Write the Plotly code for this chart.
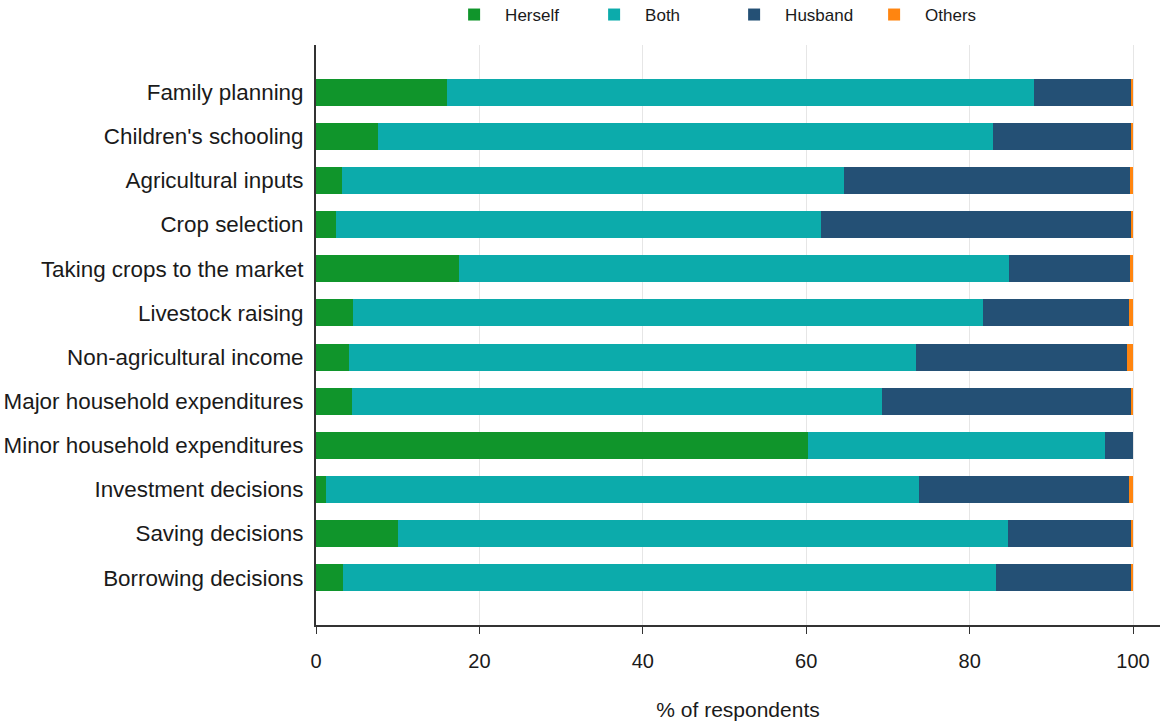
import plotly.graph_objects as go

categories = [
    "Family planning",
    "Children's schooling",
    "Agricultural inputs",
    "Crop selection",
    "Taking crops to the market",
    "Livestock raising",
    "Non-agricultural income",
    "Major household expenditures",
    "Minor household expenditures",
    "Investment decisions",
    "Saving decisions",
    "Borrowing decisions",
]

herself = [16.0, 7.6, 3.2, 2.4, 17.5, 4.5, 4.0, 4.4, 60.2, 1.2, 10.0, 3.3]
both = [71.9, 75.3, 61.4, 59.4, 67.3, 77.1, 69.4, 64.9, 36.4, 72.6, 74.7, 79.9]
husband = [11.9, 16.8, 35.0, 37.9, 14.8, 17.9, 25.8, 30.5, 3.4, 25.7, 15.1, 16.6]
others = [0.2, 0.3, 0.4, 0.3, 0.4, 0.5, 0.8, 0.2, 0.0, 0.5, 0.2, 0.2]

series = [
    ("Herself", herself, "#10952b"),
    ("Both", both, "#0cabab"),
    ("Husband", husband, "#245075"),
    ("Others", others, "#ff8510"),
]

x_ticks = [0, 20, 40, 60, 80, 100]

fig = go.Figure()
for name, vals, color in series:
    fig.add_trace(go.Bar(
        y=categories, x=vals, name=name, orientation="h",
        marker=dict(color=color, line=dict(width=0)),
        width=0.61,
    ))

n = len(categories)
fig.update_layout(
    barmode="stack",
    hovermode=False,
    width=1161, height=721,
    margin=dict(l=316, r=1, t=45, b=96, autoexpand=False),
    plot_bgcolor="white", paper_bgcolor="white",
    font=dict(family="Liberation Sans, Arial, sans-serif", color="#1a1a1a"),
    showlegend=True,
    legend=dict(
        orientation="h", xref="paper", x=0.1506, xanchor="left",
        yref="paper", y=1.0828, yanchor="top",
        itemwidth=52,
        entrywidth=73, entrywidthmode="pixels",
        font=dict(size=17, color="#1a1a1a"),
        traceorder="normal",
    ),
    xaxis=dict(
        range=[0, 103.3], tickvals=x_ticks, ticktext=[str(t) for t in x_ticks],
        showgrid=True, gridcolor="#e6e6e6", gridwidth=1,
        showline=True, linecolor="#333333", linewidth=2,
        ticks="outside", ticklen=7, tickcolor="#333333", tickwidth=1,
        tickfont=dict(size=20, color="#1a1a1a"),
        ticklabelstandoff=10,
        zeroline=False,
        title=dict(text="% of respondents", font=dict(size=21, color="#1a1a1a"), standoff=31),
    ),
    yaxis=dict(
        categoryorder="array", categoryarray=categories[::-1],
        range=[-1.07, n - 1 + 1.07],
        showgrid=False, showline=True, linecolor="#333333", linewidth=2,
        ticks="", tickfont=dict(size=22.4, color="#1a1a1a"),
        ticklabelstandoff=6,
        zeroline=False,
    ),
)

fig.write_html(
    "out.html",
    config={"displayModeBar": False, "staticPlot": True},
    post_script="document.body.style.margin='0';document.body.style.overflow='hidden';",
)
